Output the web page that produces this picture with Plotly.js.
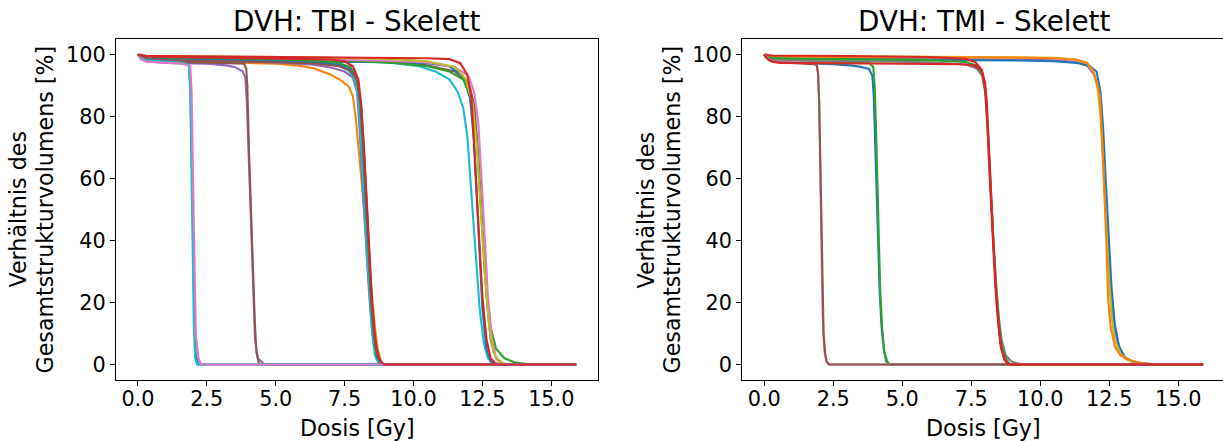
<!DOCTYPE html>
<html>
<head>
<meta charset="utf-8">
<script src="https://cdn.plot.ly/plotly-3.0.1.min.js"></script>
<style>html,body{margin:0;padding:0;background:#fff;}#chart{width:1223px;height:441px;}</style>
</head>
<body>
<div id="chart"></div>
<script>
// ---------- tick labels ----------
const xTickVals = [0, 2.5, 5, 7.5, 10, 12.5, 15];
const xTickText = ["0.0", "2.5", "5.0", "7.5", "10.0", "12.5", "15.0"];
const yTickVals = [0, 20, 40, 60, 80, 100];
const yTickText = ["0", "20", "40", "60", "80", "100"];
const titles = ["DVH: TBI - Skelett", "DVH: TMI - Skelett"];
const xLabel = "Dosis [Gy]";
const yLabelLines = ["Verhältnis des", "Gesamtstrukturvolumens [%]"];

// ---------- TBI (left) : 12.5 Gy group ----------
const tbi12_cyan_d = [0,0.1,0.3,1,3,6,9,10.2,10.8,11.3,11.6,11.8,11.95,12.1,12.25,12.4,12.55,12.7,12.9,15.9];
const tbi12_cyan_v = [100,99.4,98.9,98.6,98.4,98.1,97.5,96.2,94.5,92,88,83,74,55,35,18,7,2,0,0];
const tbi12_brown_d = [0,0.1,0.3,1,3,6,9,10.5,11.5,12.0,12.2,12.35,12.5,12.65,12.8,13.0,13.3,15.9];
const tbi12_brown_v = [100,99.3,98.8,98.5,98.3,98.0,97.6,96.5,94.5,91,84,68,45,22,8,2,0,0];
const tbi12_blue_d = [0,0.1,0.3,1,3,6,9,10.5,11.3,11.8,12.05,12.2,12.3,12.4,12.5,12.65,12.8,13.0,15.9];
const tbi12_blue_v = [100,99.2,98.6,98.2,98.0,97.8,97.5,97.2,96.2,93,86,72,55,35,18,5,1,0,0];
const tbi12_green_d = [0,0.1,0.3,1,3,6,8,9.5,10.5,11.3,11.8,12.1,12.3,12.45,12.6,12.8,13.0,13.3,13.7,14.3,15.9];
const tbi12_green_v = [100,99.4,99.0,98.7,98.5,98.2,97.8,97.2,96.2,94.5,92,86,72,50,28,12,5,2,0.6,0,0];
const tbi12_pink_d = [0,0.1,0.3,1,3,6,9,10.5,11.5,12.0,12.2,12.35,12.5,12.6,12.7,12.85,13.0,13.2,15.9];
const tbi12_pink_v = [100,99.5,99.2,98.9,98.7,98.5,98.0,97.4,96,93,88,78,55,38,22,8,2,0,0];
const tbi12_olive_d = [0,0.1,0.3,1,3,6,9,10.5,11.5,11.9,12.15,12.3,12.45,12.6,12.75,12.9,13.1,13.4,15.9];
const tbi12_olive_v = [100,99.7,99.5,99.4,99.3,99.1,98.6,97.8,96,92,84,70,48,28,12,4,1,0,0];
const tbi12_red_d = [0,0.1,0.3,1,3,6,9,10.5,11.3,11.7,11.95,12.1,12.2,12.35,12.5,12.65,12.8,12.95,13.2,15.9];
const tbi12_red_v = [100,99.8,99.6,99.5,99.4,99.2,99.0,98.8,98.5,97.2,93.5,86,70,45,22,8,2,0.5,0,0];

// ---------- TBI (left) : 8 Gy group ----------
const tbi8_orange_d = [0,0.1,0.3,1,3,5,5.8,6.4,7.0,7.4,7.66,7.8,7.9,8.0,8.1,8.2,8.3,8.4,8.5,8.6,8.7,8.85,15.9];
const tbi8_orange_v = [100,99.2,98.4,97.9,97.5,97.0,96.5,95.5,93.5,91.5,89.5,86.5,80,70,60,50,40,30,20,12,5,0,0];
const tbi8_purple_d = [0,0.1,0.3,1,3,5,6.3,7.0,7.5,7.8,7.95,8.05,8.15,8.25,8.35,8.45,8.55,8.65,8.8,15.9];
const tbi8_purple_v = [100,99.3,98.6,98.2,97.8,97.4,96.8,95.8,94.5,92.5,88,75,58,42,28,16,7,2,0,0];
const tbi8_cyan_d = [0,0.1,0.3,1,3,5,6.5,7.2,7.6,7.85,8.0,8.1,8.2,8.3,8.4,8.5,8.6,8.75,15.9];
const tbi8_cyan_v = [100,99.4,98.8,98.5,98.2,97.9,97.4,96.6,95.2,92.5,86,72,55,38,22,10,3,0,0];
const tbi8_green_d = [0,0.1,0.3,1,3,5,6.5,7.3,7.7,7.9,8.05,8.15,8.25,8.35,8.45,8.55,8.65,8.8,15.9];
const tbi8_green_v = [100,99.5,99.0,98.8,98.5,98.2,97.8,97.2,96,93.5,86,72,55,38,22,10,3,0,0];
const tbi8_blue_d = [0,0.1,0.3,1,3,5,6.5,7.3,7.7,7.95,8.08,8.18,8.28,8.38,8.48,8.58,8.7,8.85,15.9];
const tbi8_blue_v = [100,99.3,98.7,98.4,98.1,97.8,97.3,96.6,95.3,92,84,70,52,35,20,9,2,0,0];
const tbi8_brown_d = [0,0.1,0.3,1,3,5,6.5,7.3,7.7,7.95,8.1,8.2,8.3,8.4,8.5,8.6,8.75,8.9,15.9];
const tbi8_brown_v = [100,99.2,98.5,98.1,97.8,97.5,97.0,96.2,94.8,92,84,70,52,34,18,8,2,0,0];
const tbi8_red_d = [0,0.1,0.3,1,3,5,7.0,7.5,7.8,8.0,8.1,8.2,8.3,8.4,8.5,8.6,8.7,8.8,8.95,15.9];
const tbi8_red_v = [100,99.7,99.4,99.2,99.0,98.8,98.4,97.8,96.2,92,84,70,52,34,20,9,3,1,0,0];

// ---------- TBI (left) : 4 Gy group ----------
const tbi4_purple_d = [0,0.1,0.3,1,2.5,3.2,3.5,3.8,3.9,3.95,4.05,4.15,4.25,4.35,4.6,15.9];
const tbi4_purple_v = [100,98.8,97.8,97.3,97.0,96.5,96.0,94.6,92.5,85,60,30,8,2,0,0];
const tbi4_brown_d = [0,0.1,0.3,1,3,3.85,3.93,3.97,4.03,4.1,4.17,4.24,4.3,4.4,15.9];
const tbi4_brown_v = [100,99.0,98.0,97.6,97.3,97.0,95.5,90,69,48,30,14,4,0,0];

// ---------- TBI (left) : 2 Gy group ----------
const tbi2_blue_d = [0,0.1,0.3,1,1.6,1.85,1.9,1.95,2.0,2.05,2.1,2.2,15.9];
const tbi2_blue_v = [100,98.8,97.9,97.5,97.2,96.5,90,70,40,15,3,0,0];
const tbi2_cyan_d = [0,0.1,0.3,1,1.6,1.85,1.9,1.94,1.98,2.03,2.08,2.15,15.9];
const tbi2_cyan_v = [100,99.0,98.1,97.6,97.3,96.6,88,65,35,12,2,0,0];
const tbi2_pink_d = [0,0.1,0.3,1,1.6,1.9,1.95,2.0,2.05,2.1,2.2,2.3,15.9];
const tbi2_pink_v = [100,98.6,97.7,97.3,97.0,96.3,88,60,30,10,2,0,0];

// ---------- TMI (right) : 12 Gy group ----------
const tmi12_purple_d = [0,0.05,0.15,0.3,1,3,6,9,10.5,11.3,11.7,11.95,12.1,12.2,12.3,12.4,12.5,12.6,12.72,12.9,13.1,13.4,13.8,14.3,15.9];
const tmi12_purple_v = [100,99.5,99.1,98.9,98.8,98.7,98.6,98.4,98.1,97.6,96.4,93.5,89,82,68,50,33,20,10,4.5,2,0.8,0.3,0,0];
const tmi12_blue_d = [0,0.05,0.15,0.3,1,3,6,9,10.5,11.4,11.8,12.04,12.18,12.28,12.38,12.48,12.58,12.7,12.85,13.05,13.3,13.7,14.2,15.9];
const tmi12_blue_v = [100,99.4,98.9,98.6,98.5,98.4,98.3,98.1,97.8,97.2,96.2,94.5,88,76,58,40,25,13,6,2.5,1,0.3,0,0];
const tmi12_olive_d = [0,0.05,0.15,0.3,1,3,6,9,10.5,11.3,11.7,11.92,12.08,12.18,12.28,12.38,12.48,12.58,12.7,12.9,13.15,13.5,14.0,15.9];
const tmi12_olive_v = [100,99.8,99.6,99.5,99.4,99.4,99.3,99.1,98.9,98.4,97.2,94.5,89,80,64,46,29,16,8,3.5,1.5,0.5,0,0];
const tmi12_orange_d = [0,0.05,0.15,0.3,1,3,6,9,10.5,11.3,11.7,11.9,12.05,12.16,12.25,12.34,12.4,12.46,12.55,12.71,12.9,13.13,13.5,13.97,14.4,15.9];
const tmi12_orange_v = [100,99.7,99.4,99.3,99.2,99.2,99.1,99.0,98.8,98.3,97.3,95,91,86.5,72,53,38,21,12,5.6,3,1.8,0.7,0.2,0,0];

// ---------- TMI (right) : 4 Gy group ----------
const tmi4_blue_d = [0,0.05,0.15,0.3,0.6,1.5,2.5,3.2,3.5,3.8,3.92,3.97,4.02,4.07,4.12,4.18,4.25,4.33,4.42,4.55,15.9];
const tmi4_blue_v = [100,99.3,98.5,97.9,97.6,97.3,96.9,96.4,96.0,95.3,93,86,70,52,38,24,12,5,1,0,0];
const tmi4_green_d = [0,0.05,0.15,0.3,0.6,1.5,3.0,3.8,3.95,4.0,4.05,4.1,4.15,4.2,4.27,4.35,4.45,4.55,15.9];
const tmi4_green_v = [100,99.5,99.0,98.6,98.4,98.1,97.7,97.3,96,90,76,58,40,24,12,4,1,0,0];

// ---------- TMI (right) : 8 Gy group ----------
const tmi8_gray_d = [0,0.05,0.15,0.3,1,3,6,7.3,7.7,7.9,8.02,8.1,8.2,8.3,8.4,8.5,8.6,8.75,8.95,9.2,9.5,15.9];
const tmi8_gray_v = [100,99.4,98.8,98.4,98.1,97.8,97.5,96.8,95.5,93,87,75,56,40,26,15,8,3,1,0.3,0,0];
const tmi8_green_d = [0,0.05,0.15,0.3,1,3,6,7.3,7.7,7.9,8.02,8.1,8.2,8.3,8.4,8.5,8.6,8.75,8.9,15.9];
const tmi8_green_v = [100,99.6,99.2,98.9,98.7,98.5,98.2,97.6,96.4,94,88,76,57,40,25,14,6,2,0,0];
const tmi8_redhi_d = [0,0.05,0.15,0.3,1,3,6,7.3,7.65,7.88,8.0,8.08,8.17,8.26,8.36,8.46,8.56,8.7,8.85,15.9];
const tmi8_redhi_v = [100,99.9,99.8,99.7,99.6,99.5,99.2,98.6,97.5,95,89,78,60,42,27,15,6,1.5,0,0];

// ---------- TMI (right) : 2 Gy group ----------
const tmi2_pink_d = [0,0.05,0.15,0.3,0.5,1.0,1.5,1.8,1.9,1.95,1.99,2.03,2.07,2.11,2.15,2.2,2.26,2.35,15.9];
const tmi2_pink_v = [100,99.4,98.6,98.0,97.7,97.5,97.3,97.1,96.7,94,84,62,36,18,9,3,0.8,0,0];
const tmi2_brown_d = [0,0.05,0.15,0.3,0.5,1.0,1.5,1.8,1.9,1.95,1.99,2.03,2.07,2.11,2.15,2.2,2.26,2.35,15.9];
const tmi2_brown_v = [100,99.3,98.4,97.8,97.5,97.3,97.1,96.9,96.5,94,85,65,38,20,10,4,1,0,0];

// ---------- TMI (right) : 8 Gy, lowest plateau (drawn last) ----------
const tmi8_redlo_d = [0,0.05,0.15,0.3,0.6,1.5,3,5,7.0,7.57,7.88,8.0,8.06,8.14,8.22,8.3,8.42,8.52,8.62,8.78,8.9,15.9];
const tmi8_redlo_v = [100,99.2,98.3,97.6,97.3,97.2,97.1,97.0,96.9,96.6,95,91,85,72,55,40,20,10,4,0.5,0,0];

// ---------- colours (matplotlib tab10) ----------
const C = {blue:"#1f77b4", orange:"#ff7f0e", green:"#2ca02c", red:"#d62728", purple:"#9467bd",
           brown:"#8c564b", pink:"#e377c2", gray:"#7f7f7f", olive:"#bcbd22", cyan:"#17becf"};

function line(x, y, color, ax) {
  return {x: x, y: y, type: "scatter", mode: "lines", xaxis: ax === 2 ? "x2" : "x", yaxis: ax === 2 ? "y2" : "y",
          line: {color: color, width: 2.1}, hoverinfo: "skip", showlegend: false};
}

const traces = [
  // left
  line(tbi12_cyan_d, tbi12_cyan_v, C.cyan, 1),
  line(tbi12_brown_d, tbi12_brown_v, C.brown, 1),
  line(tbi12_blue_d, tbi12_blue_v, C.blue, 1),
  line(tbi12_green_d, tbi12_green_v, C.green, 1),
  line(tbi12_pink_d, tbi12_pink_v, C.pink, 1),
  line(tbi12_olive_d, tbi12_olive_v, C.olive, 1),
  line(tbi12_red_d, tbi12_red_v, C.red, 1),
  line(tbi8_orange_d, tbi8_orange_v, C.orange, 1),
  line(tbi8_purple_d, tbi8_purple_v, C.purple, 1),
  line(tbi8_cyan_d, tbi8_cyan_v, C.cyan, 1),
  line(tbi8_green_d, tbi8_green_v, C.green, 1),
  line(tbi8_blue_d, tbi8_blue_v, C.blue, 1),
  line(tbi8_brown_d, tbi8_brown_v, C.brown, 1),
  line(tbi4_purple_d, tbi4_purple_v, C.purple, 1),
  line(tbi4_brown_d, tbi4_brown_v, C.brown, 1),
  line(tbi2_blue_d, tbi2_blue_v, C.blue, 1),
  line(tbi2_cyan_d, tbi2_cyan_v, C.cyan, 1),
  line(tbi2_pink_d, tbi2_pink_v, C.pink, 1),
  line(tbi8_red_d, tbi8_red_v, C.red, 1),
  // right
  line(tmi12_purple_d, tmi12_purple_v, C.purple, 2),
  line(tmi12_blue_d, tmi12_blue_v, C.blue, 2),
  line(tmi12_olive_d, tmi12_olive_v, C.olive, 2),
  line(tmi12_orange_d, tmi12_orange_v, C.orange, 2),
  line(tmi4_blue_d, tmi4_blue_v, C.blue, 2),
  line(tmi4_green_d, tmi4_green_v, C.green, 2),
  line(tmi8_gray_d, tmi8_gray_v, C.gray, 2),
  line(tmi8_green_d, tmi8_green_v, C.green, 2),
  line(tmi8_redhi_d, tmi8_redhi_v, C.red, 2),
  line(tmi2_pink_d, tmi2_pink_v, C.pink, 2),
  line(tmi2_brown_d, tmi2_brown_v, C.brown, 2),
  line(tmi8_redlo_d, tmi8_redlo_v, C.red, 2)
];

const W = 1223, H = 441;
const FONT = "DejaVu Sans";
const plotTop = 39, plotBottom = 380;
const yDom = [(H - plotBottom) / H, (H - plotTop) / H];

function xAxis(domain, range) {
  return {domain: domain, range: range, tickmode: "array", tickvals: xTickVals, ticktext: xTickText,
          ticks: "outside", ticklen: 5, tickwidth: 1.1, tickcolor: "#000", ticklabelstandoff: -5,
          showline: true, linecolor: "#000", linewidth: 1.1, mirror: true,
          showgrid: false, zeroline: false, tickfont: {family: FONT, size: 20.8, color: "#000"}, fixedrange: true};
}
function yAxis(domain, anchor, mirror) {
  return {domain: domain, range: [-5, 105], anchor: anchor, tickmode: "array", tickvals: yTickVals, ticktext: yTickText,
          ticks: "outside", ticklen: 5, tickwidth: 1.1, tickcolor: "#000",
          showline: true, linecolor: "#000", linewidth: 1.1, mirror: mirror,
          showgrid: false, zeroline: false, tickfont: {family: FONT, size: 20.8, color: "#000"}, fixedrange: true};
}

const ann = [];
const centers = [357 / W, 983.7 / W];
for (let i = 0; i < 2; i++) {
  ann.push({text: titles[i], x: centers[i], y: (H - 21) / H, xref: "paper", yref: "paper",
            xanchor: "center", yanchor: "middle", showarrow: false, font: {family: FONT, size: 27.8, color: "#000"}});
  ann.push({text: xLabel, x: centers[i], y: (H - 428) / H, xref: "paper", yref: "paper",
            xanchor: "center", yanchor: "middle", showarrow: false, font: {family: FONT, size: 22.2, color: "#000"}});
}
const yLabX = [[17, 44], [645, 671]];
for (let i = 0; i < 2; i++) {
  for (let j = 0; j < 2; j++) {
    ann.push({text: yLabelLines[j], x: yLabX[i][j] / W, y: (H - 209.5) / H, xref: "paper", yref: "paper",
              xanchor: "center", yanchor: "middle", textangle: -90, showarrow: false,
              font: {family: FONT, size: 22.2, color: "#000"}});
  }
}

const layout = {
  width: W, height: H, margin: {l: 0, r: 0, t: 0, b: 0},
  paper_bgcolor: "#fff", plot_bgcolor: "#fff", showlegend: false,
  xaxis: xAxis([116 / W, 598 / W], [-0.795, 16.695]),
  yaxis: yAxis(yDom, "x", true),
  xaxis2: Object.assign(xAxis([742.3 / W, 1], [-0.795, 16.62]), {anchor: "y2"}),
  yaxis2: yAxis(yDom, "x2", false),
  annotations: ann
};

Plotly.newPlot("chart", traces, layout, {displayModeBar: false, staticPlot: true});
</script>
</body>
</html>
